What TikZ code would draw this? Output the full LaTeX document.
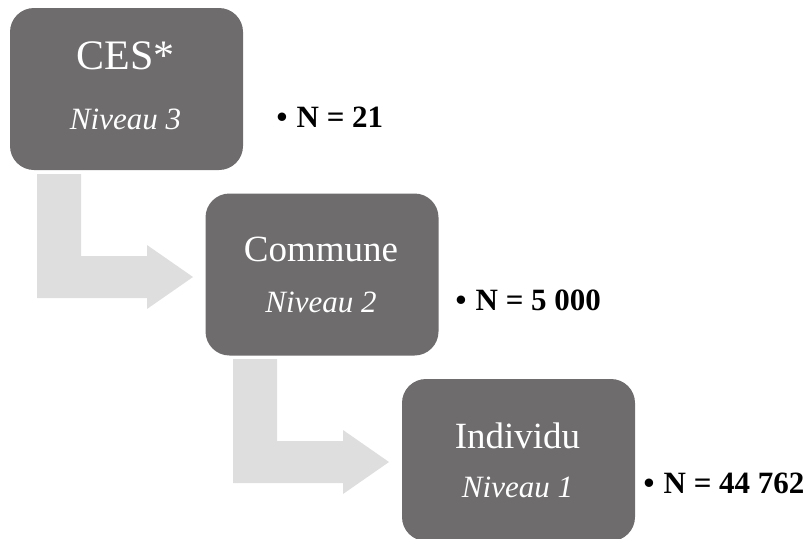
\documentclass[tikz,border=0pt]{standalone}
\usepackage{fontspec}
\setmainfont{Liberation Serif}
\usetikzlibrary{calc}

\definecolor{boxgray}{RGB}{110,108,109}
\definecolor{arrowgray}{RGB}{222,222,222}

\begin{document}
\begin{tikzpicture}[x=1pt, y=-1pt,
	niveau/.style = {fill = boxgray, rounded corners = 24, minimum width = 233, minimum height = 162, inner sep = 0},
	titre/.style = {text = white, anchor = base, font = \fontsize{37}{40}\selectfont},
	sous/.style = {text = white, anchor = base, font = \fontsize{31}{36}\selectfont\itshape},
	effectif/.style = {anchor = base west, font = \fontsize{31}{34}\selectfont\bfseries}]
	\clip (0,0) rectangle (810,538);
	% bent arrows between the levels
	\foreach \dx/\dy in {0/0, 196/185}
		\fill[arrowgray, shift = {(\dx,\dy)}] (37,174) -- (81,174) -- (81,256) -- (147,256) -- (147,245) -- (193,277) -- (147,309) -- (147,298) -- (37,298) -- cycle;
	% levels
	\node[niveau] (ces) at (126.5,89) {};
	\node[titre, font = \fontsize{42}{46}\selectfont] (cesT) at (125.5,69) {CES*};
	\node[sous] (cesN) at (125.5,129) {Niveau 3};
	\node[niveau] (commune) at (322,274.5) {};
	\node[titre] (communeT) at (321,261) {Commune};
	\node[sous] (communeN) at (321,312) {Niveau 2};
	\node[niveau] (individu) at (518.5,460) {};
	\node[titre] (individuT) at (517.5,448) {Individu};
	\node[sous] (individuN) at (517.5,497) {Niveau 1};
	% sample sizes
	\node[effectif] (n3) at (273,127) {•\hspace{0.3em}N = 21};
	\node[effectif] (n2) at (452,310) {•\hspace{0.3em}N = 5 000};
	\node[effectif] (n1) at (640,493) {•\hspace{0.3em}N = 44 762};
\end{tikzpicture}
\end{document}
